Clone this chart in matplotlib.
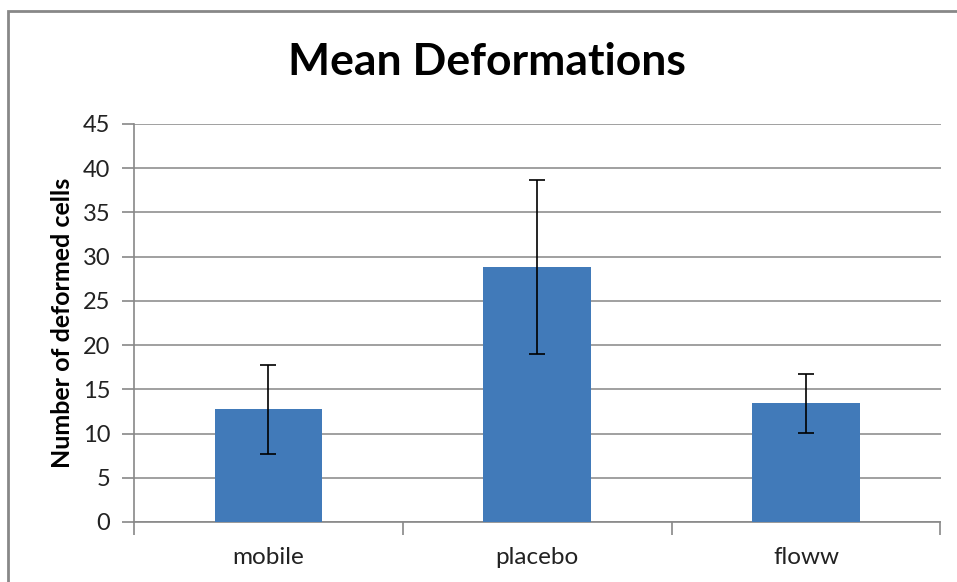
import matplotlib
matplotlib.use("Agg")
import matplotlib.pyplot as plt
from matplotlib.patches import Rectangle

plt.rcParams['font.family'] = ['Lato', 'DejaVu Sans']

categories = ['mobile', 'placebo', 'floww']
means = [12.74, 28.8, 13.42]
errors = [5.0, 9.86, 3.35]
yticks = [0, 5, 10, 15, 20, 25, 30, 35, 40, 45]

fig = plt.figure(figsize=(9.57, 5.82), dpi=100)
ax = fig.add_axes([134 / 957, 60 / 582, 806.5 / 957, 398 / 582])

x = range(len(categories))
ax.bar(x, means, width=0.4, color='#417ab9', zorder=3)
ax.errorbar(x, means, yerr=errors, fmt='none', ecolor='black',
            elinewidth=1.2, capsize=6, capthick=1.2, zorder=4)

ax.set_xlim(-0.5, 2.5)
ax.set_ylim(0, 45)
ax.set_yticks(yticks)
ax.set_xticks([-0.5, 0.5, 1.5, 2.5], minor=False)
ax.set_xticklabels([])
ax.set_xticks(list(x), minor=True)
ax.set_xticklabels(categories, minor=True, fontsize=17.5, color='#222222')
ax.tick_params(axis='x', which='minor', length=0, pad=18)
ax.tick_params(axis='x', which='major', length=9, color='#888888', width=1.2)
ax.tick_params(axis='y', length=9, color='#888888', width=1.2,
               labelsize=17, labelcolor='#222222', pad=8)
ax.yaxis.grid(True, color='#999999', linewidth=1.3, zorder=0)
for s in ['top', 'right']:
    ax.spines[s].set_visible(False)
for s in ['left', 'bottom']:
    ax.spines[s].set_color('#888888')
    ax.spines[s].set_linewidth(1.2)

ax.set_ylabel('Number of deformed cells', fontsize=18, fontweight='bold', labelpad=6)
fig.text(487 / 957, 1 - 62 / 582, 'Mean Deformations', fontsize=32,
         fontweight='bold', ha='center', va='center')

fig.patches.append(Rectangle((8 / 957, -0.1), 1.2, 1.1 - 11 / 582,
                             transform=fig.transFigure, fill=False,
                             edgecolor='#888888', linewidth=2))

fig.savefig('out.png', dpi=100)
